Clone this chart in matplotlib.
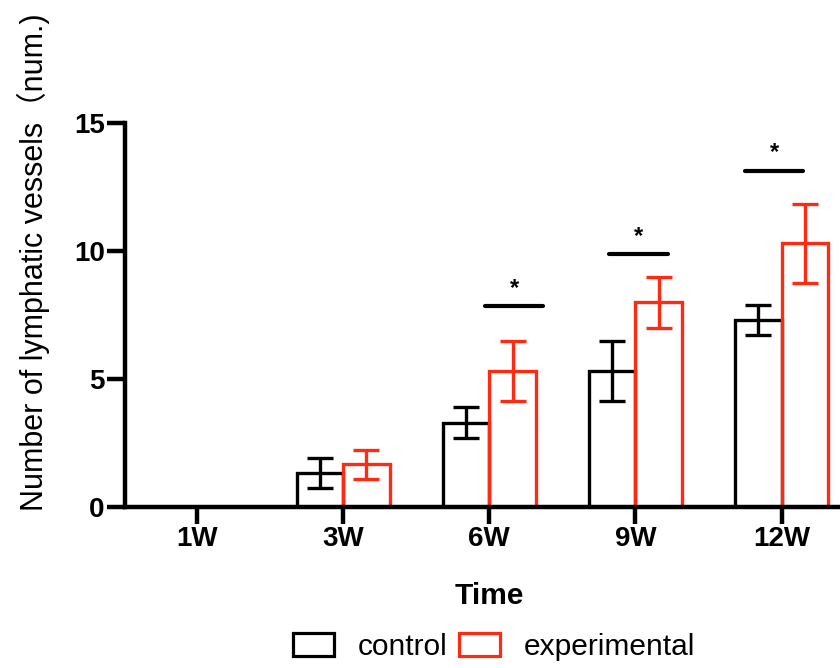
import numpy as np
import matplotlib.pyplot as plt
from matplotlib.patches import Patch

# data
weeks = ['1W', '3W', '6W', '9W', '12W']
control = [0, 1.33, 3.3, 5.3, 7.3]
control_err = [0, 0.6, 0.6, 1.17, 0.6]
experimental = [0, 1.67, 5.33, 8.0, 10.3]
experimental_err = [0, 0.57, 1.17, 1.0, 1.55]

# significance marks: group index, line height
sig_groups = [2, 3, 4]
sig_heights = [7.85, 9.88, 13.14]
sig_offsets = [0.17, 0.02, -0.05]

red = '#ff2a12'
plt.rcParams['font.family'] = ['Liberation Sans', 'Noto Sans CJK SC', 'DejaVu Sans']

fig = plt.figure(figsize=(8.4, 6.68), dpi=100)
ax = fig.add_axes([125 / 840, 161 / 668, 1 - 125 / 840, 384 / 668])

x = np.arange(len(weeks))
w = 0.318
control = np.array(control)
experimental = np.array(experimental)

ax.bar(x - w / 2, control, w, facecolor='white', edgecolor='black', linewidth=2.4, zorder=2)
ax.bar(x + w / 2, experimental, w, facecolor='none', edgecolor=red, linewidth=2.4, zorder=2)

m = control > 0
ax.errorbar(x[m] - w / 2, control[m], yerr=np.array(control_err)[m], fmt='none',
            ecolor='black', elinewidth=2.4, capsize=9.5, capthick=2.4, zorder=3)
m = experimental > 0
ax.errorbar(x[m] + w / 2, experimental[m], yerr=np.array(experimental_err)[m], fmt='none',
            ecolor=red, elinewidth=2.4, capsize=9.5, capthick=2.4, zorder=3)

for g, h, off in zip(sig_groups, sig_heights, sig_offsets):
    c = x[g] + off
    ax.plot([c - 0.2, c + 0.2], [h, h], color='black', lw=3, solid_capstyle='round')
    ax.text(c, h + 0.25, '*', ha='center', va='bottom', fontsize=17, fontweight='bold')

ax.set_xlim(-0.493, 4.4)
ax.set_ylim(0, 15)
ax.set_yticks([0, 5, 10, 15])
ax.set_xticks(x)
ax.set_xticklabels(weeks)
for s in ['top', 'right']:
    ax.spines[s].set_visible(False)
for s in ['left', 'bottom']:
    ax.spines[s].set_linewidth(3.2)
    ax.spines[s].set_zorder(4)
ax.tick_params(axis='both', width=3.2, labelsize=20)
ax.tick_params(axis='y', length=13, pad=1.5)
ax.tick_params(axis='x', length=12, pad=2)
for lab in ax.get_xticklabels() + ax.get_yticklabels():
    lab.set_fontweight('bold')

ax.set_xlabel('Time', fontsize=21.5, fontweight='bold', labelpad=21)
ax.xaxis.label.set_x(0.51)
fig.text(33 / 840, 1 - 262 / 668, 'Number of lymphatic vessels（num.)', rotation=90,
         ha='center', va='center', fontsize=22)

handles = [Patch(facecolor='white', edgecolor='black', linewidth=2.3),
           Patch(facecolor='white', edgecolor=red, linewidth=2.3)]
fig.legend(handles, ['control', 'experimental'], loc='center', ncol=2,
           bbox_to_anchor=(494 / 840, 1 - 647 / 668), frameon=False, fontsize=21.5,
           handlelength=1.37, handleheight=0.77, columnspacing=0.37, handletextpad=0.8)

fig.savefig('out.png', dpi=100)
